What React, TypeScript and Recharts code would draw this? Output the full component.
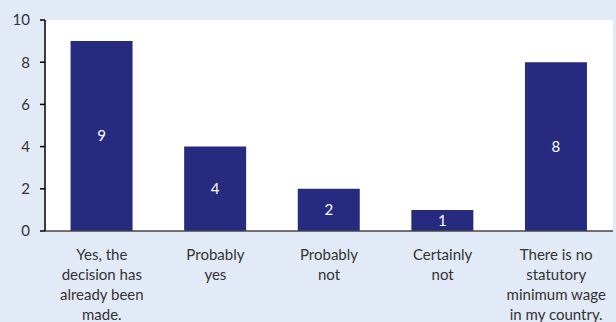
import React from 'react';
import { BarChart, Bar, XAxis, YAxis, CartesianGrid, LabelList } from 'recharts';

const categories = [
  'Yes, the\ndecision has\nalready been\nmade.',
  'Probably\nyes',
  'Probably\nnot',
  'Certainly\nnot',
  'There is no\nstatutory\nminimum wage\nin my country.',
];
const values = [9, 4, 2, 1, 8];
const yTicks = [0, 2, 4, 6, 8, 10];

const data = categories.map((c, i) => ({ name: c, value: values[i] }));

const FONT = 'Lato, "Noto Sans", sans-serif';
const TEXT = '#333333';

const XTick = (props: any) => {
  const { x, y, payload } = props;
  const lines = String(payload.value).split('\n');
  return (
    <g transform={`translate(${x},${y})`}>
      {lines.map((l, i) => (
        <text key={i} x={0} y={21 + i * 20} textAnchor="middle" fill={TEXT} fontSize={15} fontFamily={FONT}>
          {l}
        </text>
      ))}
    </g>
  );
};

export default function App() {
  return (
    <div style={{ position: 'absolute', left: 0, top: 0, width: 616, height: 322, background: '#e3eaf7' }}>
      <BarChart width={616} height={322} data={data} margin={{ top: 20, right: 3, left: 0, bottom: 0 }} barCategoryGap="22.5%">
        <CartesianGrid fill="#ffffff" stroke="none" horizontal={false} vertical={false} />
        <XAxis dataKey="name" height={91} tickLine={false} axisLine={{ stroke: '#444444', strokeWidth: 1.5 }} tick={<XTick />} interval={0} />
        <YAxis
          width={45}
          domain={[0, 10]}
          ticks={yTicks}
          tickSize={5}
          tickMargin={10}
          axisLine={{ stroke: '#000000', strokeWidth: 1.5 }}
          tickLine={{ stroke: '#000000', strokeWidth: 1.5 }}
          tick={{ fill: TEXT, fontSize: 15, fontFamily: FONT }}
        />
        <Bar dataKey="value" fill="#262b80" isAnimationActive={false}>
          <LabelList dataKey="value" position="center" fill="#ffffff" fontSize={15} fontFamily={FONT} />
        </Bar>
      </BarChart>
    </div>
  );
}
